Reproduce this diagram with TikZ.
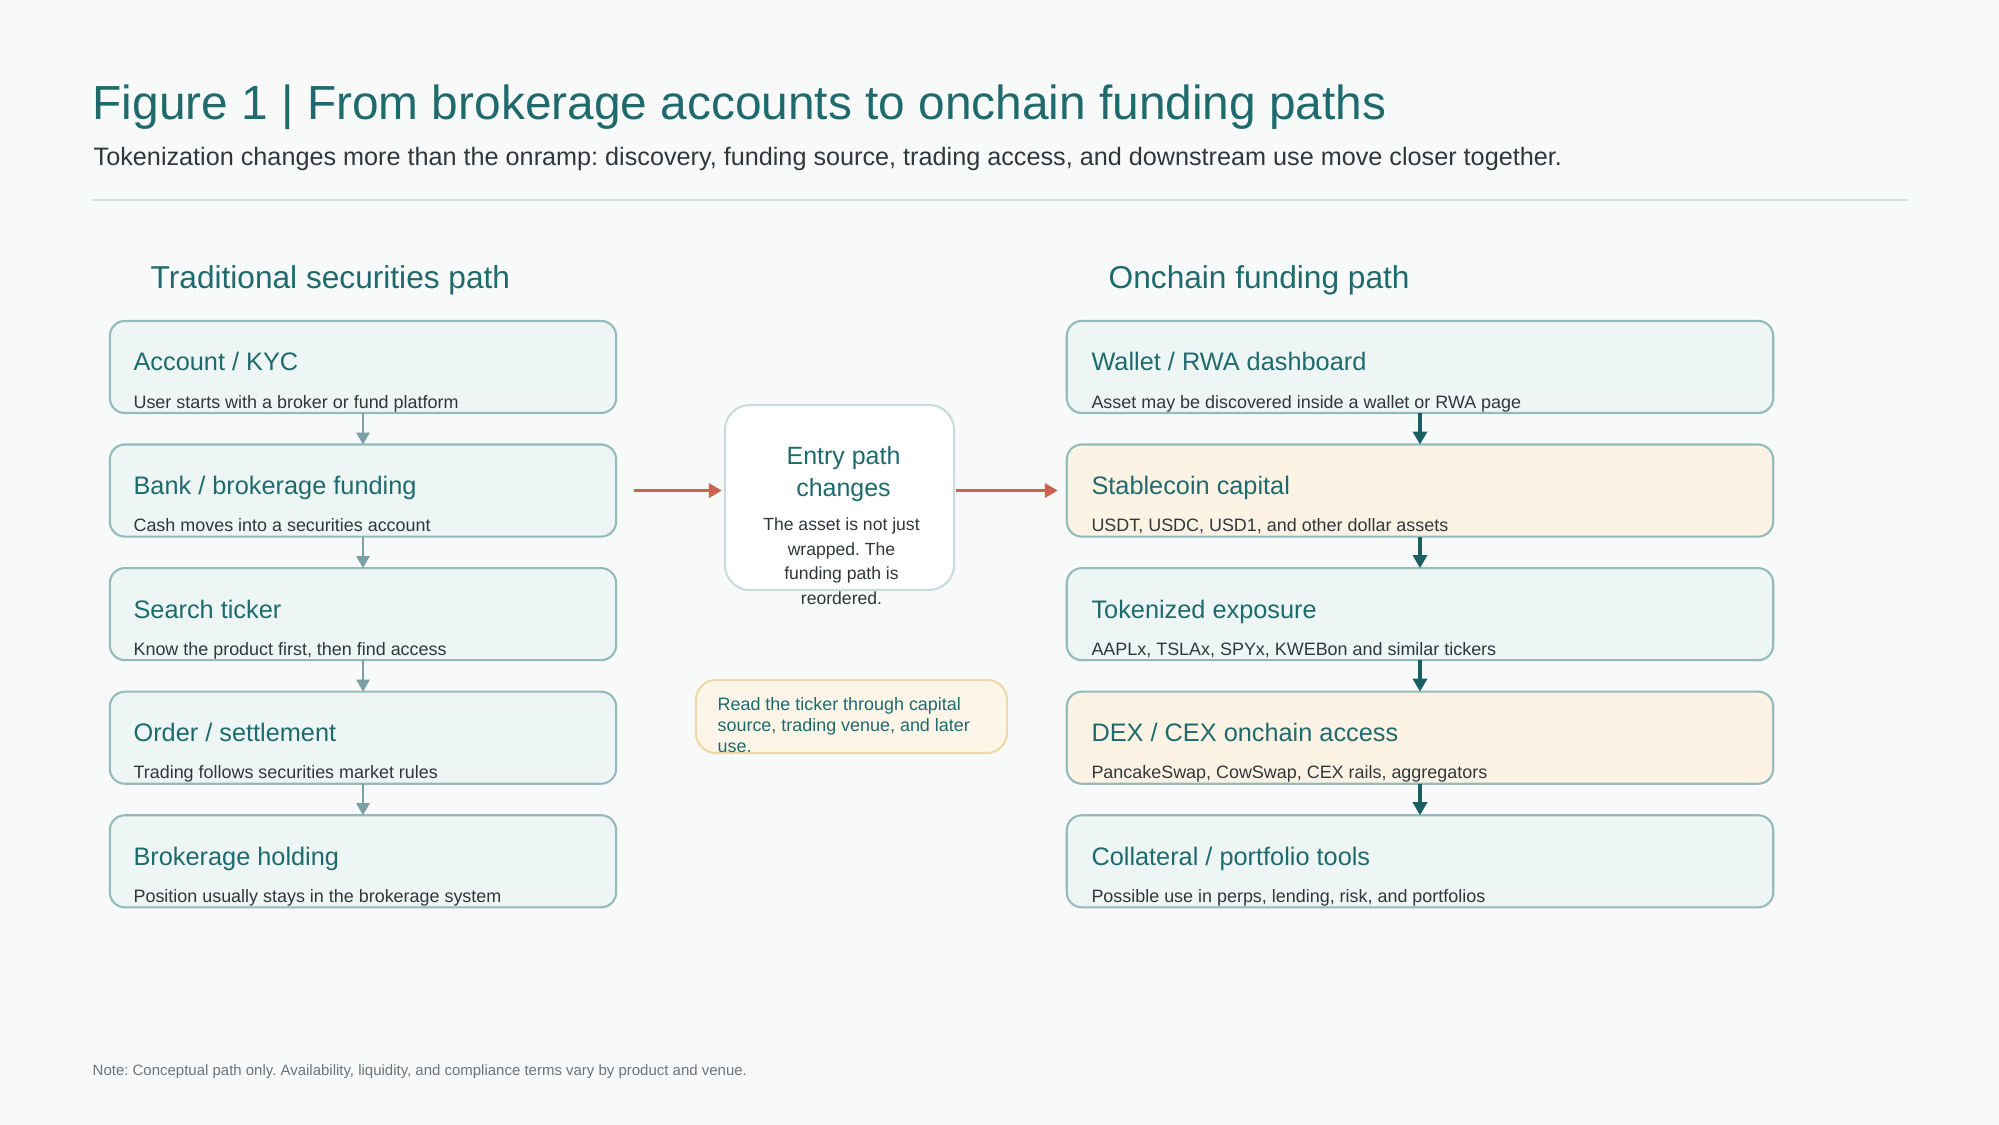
\documentclass[tikz,border=0pt]{standalone}
\usepackage{fontspec}
\setmainfont{Liberation Sans}
\usepackage{xcolor}
\usetikzlibrary{positioning,calc,arrows.meta}
\frenchspacing

\definecolor{pagebg}{HTML}{F8FAFA}
\definecolor{headteal}{HTML}{1F6A6C}
\definecolor{subgray}{HTML}{30373A}
\definecolor{rulegray}{HTML}{D3E0E0}
\definecolor{cardfill}{HTML}{EDF6F5}
\definecolor{cardedge}{HTML}{95BABB}
\definecolor{warmfill}{HTML}{FDF3E4}
\definecolor{entryedge}{HTML}{C9DCDC}
\definecolor{notefill}{HTML}{FDF6E8}
\definecolor{noteedge}{HTML}{EDD8A8}
\definecolor{flowred}{HTML}{C8644F}
\definecolor{oldarrow}{HTML}{7C9FA3}
\definecolor{newarrow}{HTML}{1B5F63}
\definecolor{footgray}{HTML}{6B7478}

\begin{document}
\begin{tikzpicture}[x=0.01cm,y=-0.01cm]
  \tikzset{
    card/.style={draw=cardedge,line width=0.6pt,fill=cardfill,rounded corners=0.15cm,
      minimum height=0.92cm,inner sep=0,outer sep=0},
    oldcard/.style={card,minimum width=5.06cm},
    newcard/.style={card,minimum width=7.06cm},
    cardtitle/.style={anchor=base west,inner sep=0,text=headteal,font=\fontsize{7.2}{8.6}\selectfont},
    cardsub/.style={anchor=base west,inner sep=0,text=subgray,font=\fontsize{5.1}{6.1}\selectfont},
    oldflow/.style={oldarrow,line width=0.75pt,-{Triangle[length=0.12cm,width=0.13cm]}},
    newflow/.style={newarrow,line width=1.1pt,-{Triangle[length=0.13cm,width=0.14cm]}},
    redflow/.style={flowred,line width=1.1pt,-{Triangle[length=0.13cm,width=0.14cm]}}
  }
  % page
  \fill[pagebg] (0,0) rectangle (1999,1125);
  \useasboundingbox (0,0) rectangle (1999,1125);

  % heading
  \node[anchor=base west,inner sep=0,text=headteal,font=\fontsize{13.6}{16}\selectfont] (title) at (92,120)
    {Figure 1 | From brokerage accounts to onchain funding paths};
  \node[anchor=base west,inner sep=0,text=subgray,font=\fontsize{7.17}{9}\selectfont] (subtitle) at (93,166)
    {Tokenization changes more than the onramp: discovery, funding source, trading access, and downstream use move closer together.};
  \coordinate (ruleL) at (92,200);
  \coordinate (ruleR) at (1908,200);
  \draw[rulegray,line width=0.6pt] (ruleL) -- (ruleR);

  % column headers
  \node[anchor=base west,inner sep=0,text=headteal,font=\fontsize{9}{11}\selectfont] (oldhead) at (150,289)
    {Traditional securities path};
  \node[anchor=base west,inner sep=0,text=headteal,font=\fontsize{9}{11}\selectfont] (newhead) at (1108,289)
    {Onchain funding path};

  % traditional path
  \node[oldcard] (acct) at (363,367) {};
  \node[oldcard,below=0.315cm of acct] (bank) {};
  \node[oldcard,below=0.315cm of bank] (search) {};
  \node[oldcard,below=0.315cm of search] (order) {};
  \node[oldcard,below=0.315cm of order] (hold) {};
  \node[cardtitle] (acctT) at ([xshift=0.23cm,yshift=-0.50cm]acct.north west) {Account / KYC};
  \node[cardsub] (acctS) at ([xshift=0.23cm,yshift=-0.87cm]acct.north west) {User starts with a broker or fund platform};
  \node[cardtitle] (bankT) at ([xshift=0.23cm,yshift=-0.50cm]bank.north west) {Bank / brokerage funding};
  \node[cardsub] (bankS) at ([xshift=0.23cm,yshift=-0.87cm]bank.north west) {Cash moves into a securities account};
  \node[cardtitle] (searchT) at ([xshift=0.23cm,yshift=-0.50cm]search.north west) {Search ticker};
  \node[cardsub] (searchS) at ([xshift=0.23cm,yshift=-0.87cm]search.north west) {Know the product first, then find access};
  \node[cardtitle] (orderT) at ([xshift=0.23cm,yshift=-0.50cm]order.north west) {Order / settlement};
  \node[cardsub] (orderS) at ([xshift=0.23cm,yshift=-0.87cm]order.north west) {Trading follows securities market rules};
  \node[cardtitle] (holdT) at ([xshift=0.23cm,yshift=-0.50cm]hold.north west) {Brokerage holding};
  \node[cardsub] (holdS) at ([xshift=0.23cm,yshift=-0.87cm]hold.north west) {Position usually stays in the brokerage system};
  \draw[oldflow] (acct) -- (bank);
  \draw[oldflow] (bank) -- (search);
  \draw[oldflow] (search) -- (order);
  \draw[oldflow] (order) -- (hold);

  % onchain path
  \node[newcard] (wallet) at (1420,367) {};
  \node[newcard,fill=warmfill,below=0.315cm of wallet] (stable) {};
  \node[newcard,below=0.315cm of stable] (token) {};
  \node[newcard,fill=warmfill,below=0.315cm of token] (dex) {};
  \node[newcard,below=0.315cm of dex] (collat) {};
  \node[cardtitle] (walletT) at ([xshift=0.24cm,yshift=-0.50cm]wallet.north west) {Wallet / RWA dashboard};
  \node[cardsub] (walletS) at ([xshift=0.24cm,yshift=-0.87cm]wallet.north west) {Asset may be discovered inside a wallet or RWA page};
  \node[cardtitle] (stableT) at ([xshift=0.24cm,yshift=-0.50cm]stable.north west) {Stablecoin capital};
  \node[cardsub] (stableS) at ([xshift=0.24cm,yshift=-0.87cm]stable.north west) {USDT, USDC, USD1, and other dollar assets};
  \node[cardtitle] (tokenT) at ([xshift=0.24cm,yshift=-0.50cm]token.north west) {Tokenized exposure};
  \node[cardsub] (tokenS) at ([xshift=0.24cm,yshift=-0.87cm]token.north west) {AAPLx, TSLAx, SPYx, KWEBon and similar tickers};
  \node[cardtitle] (dexT) at ([xshift=0.24cm,yshift=-0.50cm]dex.north west) {DEX / CEX onchain access};
  \node[cardsub] (dexS) at ([xshift=0.24cm,yshift=-0.87cm]dex.north west) {PancakeSwap, CowSwap, CEX rails, aggregators};
  \node[cardtitle] (collatT) at ([xshift=0.24cm,yshift=-0.50cm]collat.north west) {Collateral / portfolio tools};
  \node[cardsub] (collatS) at ([xshift=0.24cm,yshift=-0.87cm]collat.north west) {Possible use in perps, lending, risk, and portfolios};
  \draw[newflow] (wallet) -- (stable);
  \draw[newflow] (stable) -- (token);
  \draw[newflow] (token) -- (dex);
  \draw[newflow] (dex) -- (collat);

  % middle: entry path (base = last line of a multi-line node)
  \node[draw=entryedge,line width=0.6pt,fill=white,rounded corners=0.25cm,minimum width=2.29cm,
    minimum height=1.85cm,inner sep=0,outer sep=0] (entry) at (839.5,497.5) {};
  \node[anchor=base,inner sep=0,align=center,text=headteal,font=\fontsize{7.1}{9.1}\selectfont] (entryT)
    at ([xshift=0.04cm,yshift=-0.92cm]entry.north) {Entry path\\changes};
  \node[anchor=base,inner sep=0,align=center,text=subgray,font=\fontsize{5}{6.95}\selectfont] (entryS)
    at ([xshift=0.02cm,yshift=-1.99cm]entry.north) {The asset is not just\\wrapped. The\\funding path is\\reordered.};
  \draw[redflow,shorten <=0.18cm,shorten >=0.03cm] (bank.east) -- (bank.east -| entry.west);
  \draw[redflow,shorten <=0.02cm,shorten >=0.09cm] (entry.east |- stable.west) -- (stable.west);

  % reading note
  \node[draw=noteedge,line width=0.6pt,fill=notefill,rounded corners=0.2cm,minimum width=3.11cm,
    minimum height=0.73cm,inner sep=0,outer sep=0] (note) at (851.5,716.5) {};
  \node[anchor=base west,inner sep=0,align=left,text=headteal,font=\fontsize{5.1}{5.85}\selectfont] (noteT)
    at ([xshift=0.21cm,yshift=-0.72cm]note.north west)
    {Read the ticker through capital\\source, trading venue, and later\\use.};

  % footer
  \node[anchor=base west,inner sep=0,text=footgray,font=\fontsize{4.26}{5}\selectfont] (foot) at (92,1076)
    {Note: Conceptual path only. Availability, liquidity, and compliance terms vary by product and venue.};
\end{tikzpicture}
\end{document}
